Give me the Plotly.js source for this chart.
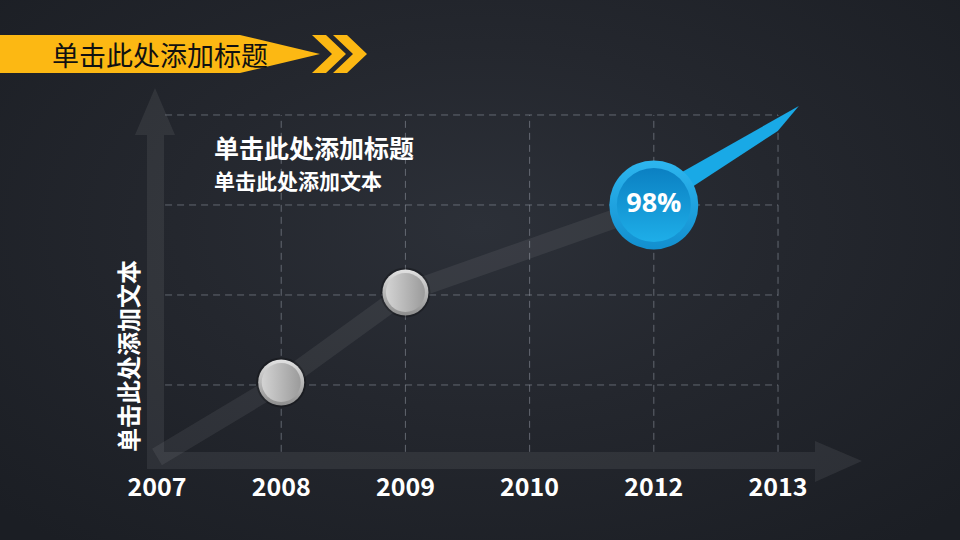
<!DOCTYPE html>
<html>
<head>
<meta charset="utf-8">
<script src="https://cdn.plot.ly/plotly-3.0.1.min.js"></script>
<style>
  html, body { margin:0; padding:0; width:960px; height:540px; overflow:hidden;
    background: radial-gradient(ellipse 70% 75% at 50% 42%, #2c3038 0%, #24272e 45%, #1b1e24 100%); }
  #chart { width:960px; height:540px; }
</style>
</head>
<body>
<div id="chart"></div>
<script>
// ---- data ----
const years = ['2007', '2008', '2009', '2010', '2012', '2013'];
const values = [0, 29, 64, null, 98, null];
const grayPointYears = ['2008', '2009'];
const highlightYear = '2012';
const highlightLabel = '98%';
const gridValues = [28, 63, 98, 133];
const bannerTitle = '单击此处添加标题';
const chartTitle = '单击此处添加标题';
const chartSubtitle = '单击此处添加文本';
const yTitle = '单击此处添加文本';

// ---- layout geometry ----
const W = 960, H = 540;
const M = {l: 100, r: 80, t: 80, b: 70};
const PW = W - M.l - M.r, PH = H - M.t - M.b;
const xRange = [-0.459, 5.821];
const yRange = [-5.06, 146.6];
const XS = PW / (xRange[1] - xRange[0]);   // px per x unit
const YS = PH / (yRange[1] - yRange[0]);   // px per y unit
const PX = x => (x - M.l) / PW;              // pixel -> paper
const PY = y => (H - M.b - y) / PH;

const idx = y => years.indexOf(y);
const xi = years.map((_, i) => i);

const CJK = '"Noto Sans CJK SC", "Noto Sans", sans-serif';
const YELLOW = '#fcb813';

function paperPath(pts) {
  return 'M' + pts.map(p => PX(p[0]).toFixed(5) + ',' + PY(p[1]).toFixed(5)).join(' L') + ' Z';
}
// path anchored on a data point, offsets given in pixels (y down)
function dataPath(x0, y0, offs) {
  return 'M' + offs.map(o => (x0 + o[0] / XS).toFixed(5) + ',' + (y0 - o[1] / YS).toFixed(5)).join(' L') + ' Z';
}

const shapes = [];
// decorative axis arrows
const AX = 'rgba(255,255,255,0.07)';
shapes.push({type: 'path', xref: 'paper', yref: 'paper', layer: 'below', line: {width: 0}, fillcolor: AX,
  path: paperPath([[147, 468], [147, 135], [135, 135], [155, 88], [175, 135], [164, 135], [164, 452], [147, 452]])});
shapes.push({type: 'path', xref: 'paper', yref: 'paper', layer: 'below', line: {width: 0}, fillcolor: AX,
  path: paperPath([[147, 452], [815, 452], [815, 441], [862, 461], [815, 482], [815, 469], [147, 469]])});

// dashed grid (bounded)
const lastX = xi[xi.length - 1];
const GRID = 'rgba(150,155,165,0.55)';
gridValues.forEach(v => shapes.push({type: 'line', xref: 'x', yref: 'y', layer: 'below',
  x0: 0.065, x1: lastX, y0: v, y1: v, line: {color: GRID, width: 1, dash: '7px,5px'}}));
xi.slice(1).forEach(i => shapes.push({type: 'line', xref: 'x', yref: 'y', layer: 'below',
  x0: i, x1: i, y0: 2, y1: gridValues[gridValues.length - 1], line: {color: GRID, width: 1, dash: '7px,5px'}}));

// blue pointer arrow from highlight point
const hx = idx(highlightYear), hy = values[hx];
shapes.push({type: 'path', xref: 'x', yref: 'y', layer: 'below', line: {width: 0}, fillcolor: '#19a9e6',
  path: dataPath(hx, hy, [[0, -17], [145, -99], [124, -74], [0, 7]])});

// banner
shapes.push({type: 'path', xref: 'paper', yref: 'paper', layer: 'above', line: {width: 0}, fillcolor: YELLOW,
  path: paperPath([[0, 35], [240, 35], [320, 54], [240, 73], [0, 73]])});
[312, 333].forEach(c => shapes.push({type: 'path', xref: 'paper', yref: 'paper', layer: 'above',
  line: {width: 0}, fillcolor: YELLOW,
  path: paperPath([[c, 35], [c + 14, 35], [c + 34, 54], [c + 14, 73], [c, 73], [c + 20, 54]])}));

// ---- traces ----
const grayX = grayPointYears.map(idx);
const grayY = grayX.map(i => values[i]);
const traces = [
  {x: xi, y: values, type: 'scatter', mode: 'lines', connectgaps: true, hoverinfo: 'skip',
   line: {color: 'rgba(255,255,255,0.065)', width: 19}},
  {x: grayX, y: grayY, type: 'scatter', mode: 'markers', hoverinfo: 'skip',
   marker: {size: 50, color: 'rgba(0,0,0,0.25)', line: {width: 0}}},
  {x: grayX, y: grayY, type: 'scatter', mode: 'markers', hoverinfo: 'skip',
   marker: {size: 46, color: '#e2e2e2', gradient: {type: 'vertical', color: '#8e8e8e'}, line: {width: 0}}},
  {x: grayX, y: grayY, type: 'scatter', mode: 'markers', hoverinfo: 'skip',
   marker: {size: 39, color: '#d3d3d3', gradient: {type: 'horizontal', color: '#9b9b9b'}, line: {width: 0}}},
  {x: [hx], y: [hy], type: 'scatter', mode: 'markers', hoverinfo: 'skip',
   marker: {size: 89, color: '#2db6ef', gradient: {type: 'vertical', color: '#128fcf'}, line: {width: 0}}},
  {x: [hx], y: [hy], type: 'scatter', mode: 'markers+text', hoverinfo: 'skip',
   text: [highlightLabel], textposition: 'middle center',
   textfont: {family: '"Open Sans", sans-serif', size: 27, color: '#ffffff', weight: 700},
   marker: {size: 74, color: '#0b80c2', gradient: {type: 'vertical', color: '#1eaee8'}, line: {width: 0}}}
];

const layout = {
  width: W, height: H, margin: M,
  paper_bgcolor: 'rgba(0,0,0,0)', plot_bgcolor: 'rgba(0,0,0,0)',
  showlegend: false,
  xaxis: {range: xRange, showgrid: false, zeroline: false, showline: false, ticks: '',
    tickvals: xi, ticktext: years, fixedrange: true,
    tickfont: {family: CJK, size: 25, color: '#ffffff', weight: 700}},
  yaxis: {range: yRange, showgrid: false, zeroline: false, showline: false, showticklabels: false, ticks: '', fixedrange: true},
  shapes: shapes,
  annotations: [
    {xref: 'paper', yref: 'paper', x: PX(50), y: PY(54), xanchor: 'left', yanchor: 'middle', showarrow: false,
     text: bannerTitle, font: {family: CJK, size: 27, color: '#111111'}},
    {xref: 'paper', yref: 'paper', x: PX(213), y: PY(147), xanchor: 'left', yanchor: 'middle', showarrow: false,
     borderpad: 0, text: chartTitle, font: {family: CJK, size: 25, color: '#ffffff', weight: 700}},
    {xref: 'paper', yref: 'paper', x: PX(213), y: PY(180), xanchor: 'left', yanchor: 'middle', showarrow: false,
     borderpad: 0, text: chartSubtitle, font: {family: CJK, size: 21, color: '#ffffff', weight: 700}},
    {xref: 'paper', yref: 'paper', x: PX(127), y: PY(356), xanchor: 'center', yanchor: 'middle', showarrow: false,
     textangle: -90, text: yTitle, font: {family: CJK, size: 24, color: '#ffffff', weight: 700}}
  ]
};

Plotly.newPlot('chart', traces, layout, {staticPlot: true, displayModeBar: false});
</script>
</body>
</html>
